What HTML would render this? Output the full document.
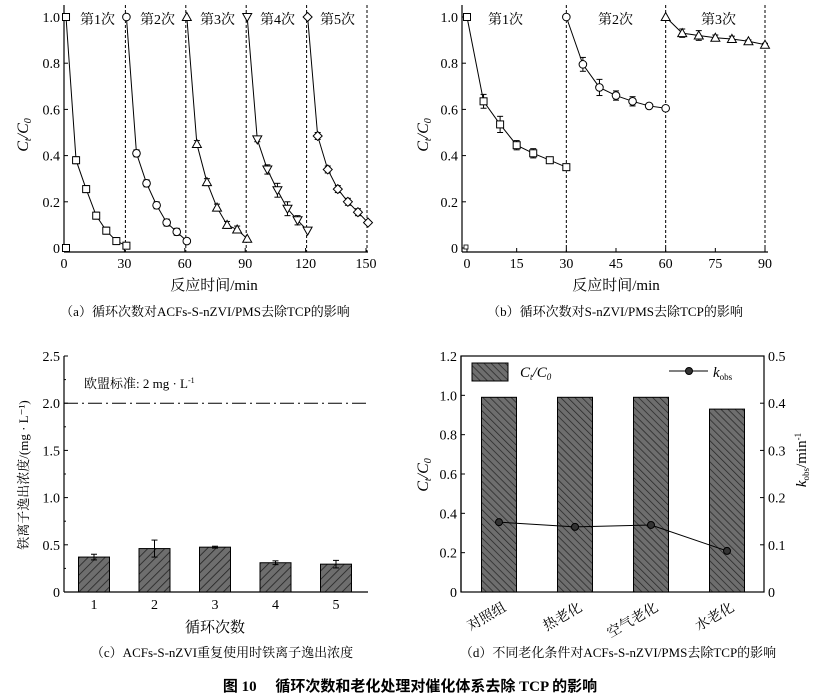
<!DOCTYPE html>
<html><head><meta charset="utf-8"><style>
body{margin:0;background:#fff;}
svg{display:block;font-family:"Liberation Serif","Noto Serif CJK SC",serif;}
</style></head><body>
<svg width="820" height="697" viewBox="0 0 820 697">
<defs>
<pattern id="hatchL" patternUnits="userSpaceOnUse" width="6" height="6" patternTransform="rotate(45)"><rect width="6" height="6" fill="#6e6e6e"/><line x1="0" y1="0" x2="0" y2="6" stroke="#222" stroke-width="1.6"/></pattern>
<pattern id="hatchR" patternUnits="userSpaceOnUse" width="5" height="5" patternTransform="rotate(-45)"><rect width="5" height="5" fill="#6e6e6e"/><line x1="0" y1="0" x2="0" y2="5" stroke="#222" stroke-width="1.4"/></pattern>
</defs>
<g id="root"></g>
<text x="410" y="691" text-anchor="middle" font-size="15" font-weight="bold" font-family="Liberation Serif,Noto Sans CJK SC,sans-serif">图 10　 循环次数和老化处理对催化体系去除 TCP 的影响</text>
</svg>
<script>
// ---- data ----
const aTimes=[0,5,10,15,20,25,30];
const aCycle1=[1,0.38,0.255,0.14,0.075,0.03,0.01];
const aCycle2=[1,0.41,0.28,0.185,0.11,0.07,0.03];
const aCycle3=[1,0.45,0.285,0.175,0.10,0.08,0.04];
const aCycle4=[1,0.47,0.34,0.25,0.17,0.12,0.075];
const aCycle5=[1,0.485,0.34,0.255,0.20,0.155,0.11];
const aErr4=[0,0.01,0.02,0.03,0.03,0.02,0.01];
const aXTicks=[0,30,60,90,120,150];
const yTicksA=[0,0.2,0.4,0.6,0.8,1.0];
const bTimes=[0,5,10,15,20,25,30];
const bCycle1=[1,0.635,0.535,0.445,0.41,0.38,0.35];
const bCycle2=[1,0.795,0.695,0.66,0.635,0.615,0.605];
const bCycle3=[1,0.93,0.92,0.91,0.905,0.895,0.88];
const bErr=[0,0.03,0.035,0.02,0.02,0.01,0.01];
const bXTicks=[0,15,30,45,60,75,90];
const cCats=["1","2","3","4","5"];
const cVals=[0.37,0.46,0.475,0.31,0.295];
const cErrs=[0.03,0.09,0.01,0.02,0.04];
const cYTicks=[0,0.5,1.0,1.5,2.0,2.5];
const dCats=["对照组","热老化","空气老化","水老化"];
const dVals=[0.99,0.99,0.99,0.93];
const dK=[0.148,0.138,0.142,0.087];
const dYTicks=[0,0.2,0.4,0.6,0.8,1.0,1.2];
const dY2Ticks=[0,0.1,0.2,0.3,0.4,0.5];

const NS="http://www.w3.org/2000/svg";
const root=document.getElementById('root');
function el(tag,attrs,parent,text){const e=document.createElementNS(NS,tag);for(const k in attrs)e.setAttribute(k,attrs[k]);if(text!==undefined)e.textContent=text;(parent||root).appendChild(e);return e;}
function lin(d0,d1,r0,r1){return v=>r0+(v-d0)*(r1-r0)/(d1-d0);}
function fmt(v){return v===0?"0":v.toFixed(1);}

function marker(g,shape,x,y){
  let m;
  if(shape==='sq') m=el('rect',{x:x-3.5,y:y-3.5,width:7,height:7,fill:'#fff',stroke:'#000','stroke-width':1},g);
  else if(shape==='ci') m=el('circle',{cx:x,cy:y,r:3.8,fill:'#fff',stroke:'#000','stroke-width':1},g);
  else if(shape==='tu') m=el('polygon',{points:`${x},${y-4.5} ${x-4.5},${y+3.5} ${x+4.5},${y+3.5}`,fill:'#fff',stroke:'#000','stroke-width':1},g);
  else if(shape==='td') m=el('polygon',{points:`${x},${y+4.5} ${x-4.5},${y-3.5} ${x+4.5},${y-3.5}`,fill:'#fff',stroke:'#000','stroke-width':1},g);
  else m=el('polygon',{points:`${x},${y-4.5} ${x+4.5},${y} ${x},${y+4.5} ${x-4.5},${y}`,fill:'#fff',stroke:'#000','stroke-width':1},g);
  
  
}
function errbar(g,x,y1,y2){
  el('line',{x1:x,y1:y1,x2:x,y2:y2,stroke:'#000','stroke-width':1},g);
  el('line',{x1:x-3,y1:y1,x2:x+3,y2:y1,stroke:'#000','stroke-width':1},g);
  el('line',{x1:x-3,y1:y2,x2:x+3,y2:y2,stroke:'#000','stroke-width':1},g);
}
function leftAxis(g,x,ys,ticks,fmtf,yTop,yBot){
  el('line',{x1:x,y1:yTop,x2:x,y2:yBot,stroke:'#000','stroke-width':1.2},g);
  ticks.forEach(t=>{el('line',{x1:x,y1:ys(t),x2:x+4,y2:ys(t),stroke:'#000'},g);
    el('text',{x:x-4,y:ys(t)+5,'text-anchor':'end','font-size':14},g,fmtf(t));});
}

// ---------- Panel A ----------
(function(){
  const g=el('g',{});  
  const xs=lin(0,150,64,366), ys=lin(0,1,248,17);
  leftAxis(g,64,ys,yTicksA,fmt,5,252);
  el('line',{x1:64,y1:252,x2:368,y2:252,stroke:'#000','stroke-width':1.2},g);
  aXTicks.forEach(t=>{el('line',{x1:xs(t),y1:252,x2:xs(t),y2:248,stroke:'#000'},g);
    el('text',{x:xs(t),y:268,'text-anchor':'middle','font-size':14},g,t);});
  [30,60,90,120,150].forEach(t=>el('line',{x1:xs(t)+1,y1:5,x2:xs(t)+1,y2:252,stroke:'#000','stroke-dasharray':'3,2'},g));
  const cyc=[aCycle1,aCycle2,aCycle3,aCycle4,aCycle5], shapes=['sq','ci','tu','td','di'];
  cyc.forEach((arr,k)=>{
    const pts=arr.map((v,i)=>[xs(aTimes[i]+30*k+1),ys(v)]);
    const p=el('polyline',{points:pts.map(p=>p.join(',')).join(' '),fill:'none',stroke:'#000','stroke-width':1},g);
     
    arr.forEach((v,i)=>{if(i>0&&i<6){const e=k===3?aErr4[i]:0.015;errbar(g,pts[i][0],ys(v+e),ys(v-e));}});
    pts.forEach(q=>marker(g,shapes[k],q[0],q[1]));
  });
  marker(g,'sq',xs(0)+2,ys(0));
  ['第1次','第2次','第3次','第4次','第5次'].forEach((s,k)=>el('text',{x:80+60*k,y:24,'font-size':14},g,s));
  const yt=el('text',{x:28,y:135,'text-anchor':'middle','font-size':16,'font-style':'italic',transform:'rotate(-90 28 135)'},g);
  yt.innerHTML='C<tspan font-size="10" dy="3">t</tspan><tspan dy="-3">/C</tspan><tspan font-size="10" dy="3">0</tspan>';
  el('text',{x:214,y:290,'text-anchor':'middle','font-size':15},g,'反应时间/min');
  el('text',{x:205,y:316,'text-anchor':'middle','font-size':13},g,'（a）循环次数对ACFs-S-nZVI/PMS去除TCP的影响');
})();

// ---------- Panel B ----------
(function(){
  const g=el('g',{});  
  const xs=lin(0,90,467,765), ys=lin(0,1,248,17);
  leftAxis(g,462,ys,yTicksA,fmt,5,252);
  el('line',{x1:462,y1:252,x2:768,y2:252,stroke:'#000','stroke-width':1.2},g);
  bXTicks.forEach(t=>{el('line',{x1:xs(t),y1:252,x2:xs(t),y2:248,stroke:'#000'},g);
    el('text',{x:xs(t),y:268,'text-anchor':'middle','font-size':14},g,t);});
  [30,60,90].forEach(t=>el('line',{x1:xs(t),y1:5,x2:xs(t),y2:252,stroke:'#000','stroke-dasharray':'3,2'},g));
  const cyc=[bCycle1,bCycle2,bCycle3], shapes=['sq','ci','tu'];
  cyc.forEach((arr,k)=>{
    const pts=arr.map((v,i)=>[xs(bTimes[i]+30*k),ys(v)]);
    const p=el('polyline',{points:pts.map(p=>p.join(',')).join(' '),fill:'none',stroke:'#000','stroke-width':1},g);
     
    arr.forEach((v,i)=>{if(i>0){const e=bErr[i]*(k===2?0.6:1);errbar(g,pts[i][0],ys(v+e),ys(v-e));}});
    pts.forEach(q=>marker(g,shapes[k],q[0],q[1]));
  });
  el('rect',{x:464,y:245,width:4,height:4,fill:'#fff',stroke:'#000','stroke-width':0.8},g);
  ['第1次','第2次','第3次'].forEach((s,k)=>el('text',{x:[488,598,701][k],y:24,'font-size':14},g,s));
  const yt=el('text',{x:428,y:135,'text-anchor':'middle','font-size':16,'font-style':'italic',transform:'rotate(-90 428 135)'},g);
  yt.innerHTML='C<tspan font-size="10" dy="3">t</tspan><tspan dy="-3">/C</tspan><tspan font-size="10" dy="3">0</tspan>';
  el('text',{x:616,y:290,'text-anchor':'middle','font-size':15},g,'反应时间/min');
  el('text',{x:615,y:316,'text-anchor':'middle','font-size':13},g,'（b）循环次数对S-nZVI/PMS去除TCP的影响');
})();

// ---------- Panel C ----------
(function(){
  const g=el('g',{});  
  const ys=lin(0,2.5,592,356), xs=i=>94+i*60.5;
  leftAxis(g,64,ys,cYTicks,v=>v===0?"0":v.toFixed(1),356,592);
  el('line',{x1:64,y1:592,x2:368,y2:592,stroke:'#000','stroke-width':1.2},g);
  [0.25,0.75,1.25,1.75,2.25].forEach(t=>el('line',{x1:64,y1:ys(t),x2:66,y2:ys(t),stroke:'#000'},g));
  cVals.forEach((v,i)=>{
    const r=el('rect',{x:xs(i)-15.5,y:ys(v),width:31,height:592-ys(v),fill:'url(#hatchL)',stroke:'#000','stroke-width':1},g);
     
    errbar(g,xs(i),ys(v+cErrs[i]),ys(v-cErrs[i]));
    el('text',{x:xs(i),y:609,'text-anchor':'middle','font-size':14},g,cCats[i]);
  });
  const l=el('line',{x1:64,y1:ys(2),x2:366,y2:ys(2),stroke:'#000','stroke-width':1,'stroke-dasharray':'14,4,2,4'},g);
   
  const t=el('text',{x:84,y:388,'font-size':13},g); t.innerHTML='欧盟标准: 2 mg · L<tspan font-size="8" dy="-5">-1</tspan>';
  el('text',{x:28,y:475,'text-anchor':'middle','font-size':13,transform:'rotate(-90 28 475)'},g,'铁离子逸出浓度/(mg · L⁻¹)');
  el('text',{x:215,y:632,'text-anchor':'middle','font-size':15},g,'循环次数');
  el('text',{x:222,y:657,'text-anchor':'middle','font-size':13},g,'（c）ACFs-S-nZVI重复使用时铁离子逸出浓度');
})();

// ---------- Panel D ----------
(function(){
  const g=el('g',{});  
  const ys=lin(0,1.2,592,356), ys2=lin(0,0.5,592,356), xs=i=>499+i*76;
  leftAxis(g,461,ys,dYTicks,fmt,356,592);
  el('rect',{x:461,y:356,width:303,height:236,fill:'none',stroke:'#000','stroke-width':1.2},g);
  dY2Ticks.forEach(t=>{el('line',{x1:764,y1:ys2(t),x2:760,y2:ys2(t),stroke:'#000'},g);
    el('text',{x:768,y:ys2(t)+5,'font-size':14},g,fmt(t));});
  dVals.forEach((v,i)=>{
    const r=el('rect',{x:xs(i)-17.5,y:ys(v),width:35,height:592-ys(v),fill:'url(#hatchR)',stroke:'#000','stroke-width':1},g);
     
    el('text',{x:xs(i)+8,y:610,'text-anchor':'end','font-size':14,transform:`rotate(-30 ${xs(i)+8} 610)`},g,dCats[i]);
  });
  const pl=el('polyline',{points:dK.map((k,i)=>xs(i)+','+ys2(k)).join(' '),fill:'none',stroke:'#000','stroke-width':1},g);
   
  dK.forEach((k,i)=>{const c=el('circle',{cx:xs(i),cy:ys2(k),r:3.5,fill:'#333',stroke:'#000'},g);
     });
  el('rect',{x:472,y:363,width:36,height:18,fill:'url(#hatchR)',stroke:'#000'},g);
  const lt=el('text',{x:520,y:377,'font-size':15,'font-style':'italic'},g);
  lt.innerHTML='C<tspan font-size="9" dy="3">t</tspan><tspan dy="-3">/C</tspan><tspan font-size="9" dy="3">0</tspan>';
  el('line',{x1:669,y1:371,x2:708,y2:371,stroke:'#000'},g);
  el('circle',{cx:689,cy:371,r:3.5,fill:'#333',stroke:'#000'},g);
  const kt=el('text',{x:713,y:377,'font-size':15,'font-style':'italic'},g);
  kt.innerHTML='k<tspan font-size="9" dy="3" font-style="normal">obs</tspan>';
  const yt=el('text',{x:428,y:475,'text-anchor':'middle','font-size':16,'font-style':'italic',transform:'rotate(-90 428 475)'},g);
  yt.innerHTML='C<tspan font-size="10" dy="3">t</tspan><tspan dy="-3">/C</tspan><tspan font-size="10" dy="3">0</tspan>';
  const y2=el('text',{x:806,y:460,'text-anchor':'middle','font-size':15,transform:'rotate(-90 806 460)'},g);
  y2.innerHTML='<tspan font-style="italic">k</tspan><tspan font-size="9" dy="3">obs</tspan><tspan dy="-3">/min</tspan><tspan font-size="9" dy="-5">-1</tspan>';
  el('text',{x:618,y:657,'text-anchor':'middle','font-size':13},g,'（d）不同老化条件对ACFs-S-nZVI/PMS去除TCP的影响');
})();
</script>
</body></html>
